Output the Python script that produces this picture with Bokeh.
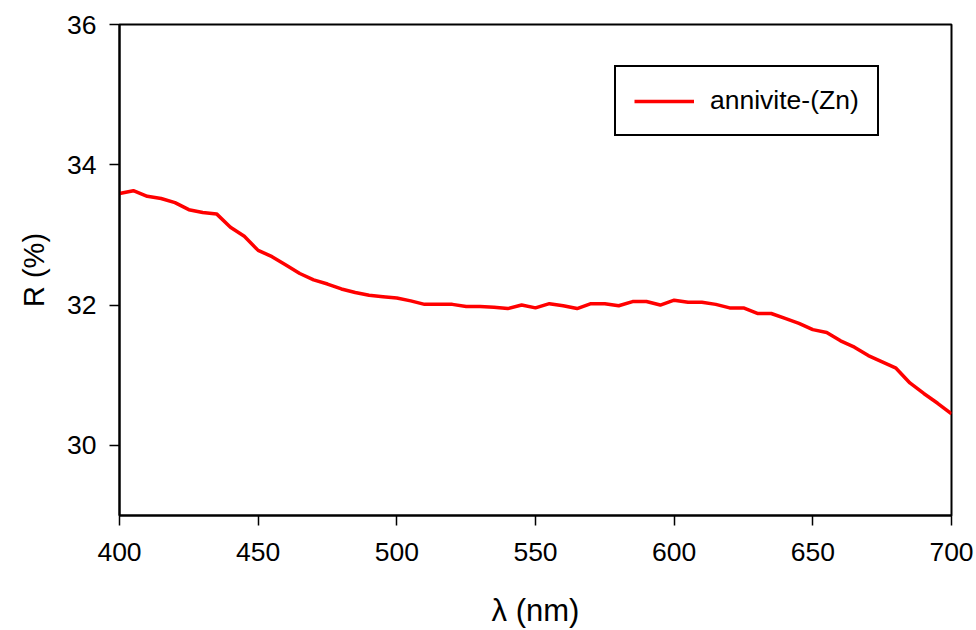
from bokeh.plotting import figure
from bokeh.models import Range1d, FixedTicker, Legend, LegendItem, Title
from bokeh.embed import file_html
from bokeh.resources import INLINE

wavelength = list(range(400, 701, 5))
reflectance = [
    33.59, 33.63, 33.55, 33.52, 33.46, 33.36, 33.32, 33.30, 33.11, 32.98,
    32.78, 32.69, 32.57, 32.45, 32.36, 32.30, 32.23, 32.18, 32.14, 32.12,
    32.10, 32.06, 32.01, 32.01, 32.01, 31.98, 31.98, 31.97, 31.95, 32.00,
    31.96, 32.02, 31.99, 31.95, 32.02, 32.02, 31.99, 32.05, 32.05, 32.00,
    32.07, 32.04, 32.04, 32.01, 31.96, 31.96, 31.88, 31.88, 31.81, 31.74,
    31.65, 31.61, 31.49, 31.40, 31.28, 31.19, 31.10, 30.89, 30.74, 30.60,
    30.45,
]
x_ticks = [400, 450, 500, 550, 600, 650, 700]
y_ticks = [30, 32, 34, 36]
series_name = "annivite-(Zn)"
x_title = "λ (nm)"
y_title = "R (%)"

FONT = "Liberation Sans"

p = figure(width=976, height=630, output_backend="svg", toolbar_location=None,
           x_range=Range1d(400, 700), y_range=Range1d(29, 36),
           min_border_left=118, min_border_right=25, min_border_top=24,
           min_border_bottom=115)
p.background_fill_color = "white"
p.border_fill_color = "white"
p.outline_line_color = "black"
p.outline_line_width = 2
p.grid.visible = False

r = p.line(wavelength, reflectance, line_color="#ff0000", line_width=3.5)

for ax in (p.xaxis[0], p.yaxis[0]):
    ax.axis_line_color = "black"
    ax.axis_line_width = 2
    ax.major_tick_line_color = "black"
    ax.major_tick_line_width = 1.5
    ax.major_tick_out = 10
    ax.major_tick_in = 0
    ax.minor_tick_line_color = None
    ax.major_label_text_font = FONT
    ax.major_label_text_font_size = "26.5px"
    ax.major_label_text_color = "black"
    ax.axis_label_text_font = FONT
    ax.axis_label_text_font_size = "31px"
    ax.axis_label_text_font_style = "normal"
    ax.axis_label_text_color = "black"

p.xaxis[0].ticker = FixedTicker(ticks=x_ticks)
p.yaxis[0].ticker = FixedTicker(ticks=y_ticks)
p.xaxis[0].major_label_standoff = 17
p.yaxis[0].major_label_standoff = 13
p.xaxis[0].axis_label = x_title
p.xaxis[0].axis_label_standoff = 29

ytitle = Title(text=y_title, align="center", offset=-10, standoff=30,
               text_font=FONT, text_font_size="29px", text_font_style="normal",
               text_color="black")
p.add_layout(ytitle, "left")

legend = Legend(items=[LegendItem(label=series_name, renderers=[r])],
                location=(495, 379), glyph_width=60, glyph_height=20,
                label_standoff=16, padding=18, border_line_color="black",
                border_line_alpha=1.0, border_line_width=2, label_text_font=FONT,
                label_text_font_size="26.5px", label_text_color="black",
                background_fill_color="white", background_fill_alpha=1.0)
p.add_layout(legend)

open("out.html", "w").write(file_html(p, INLINE))
